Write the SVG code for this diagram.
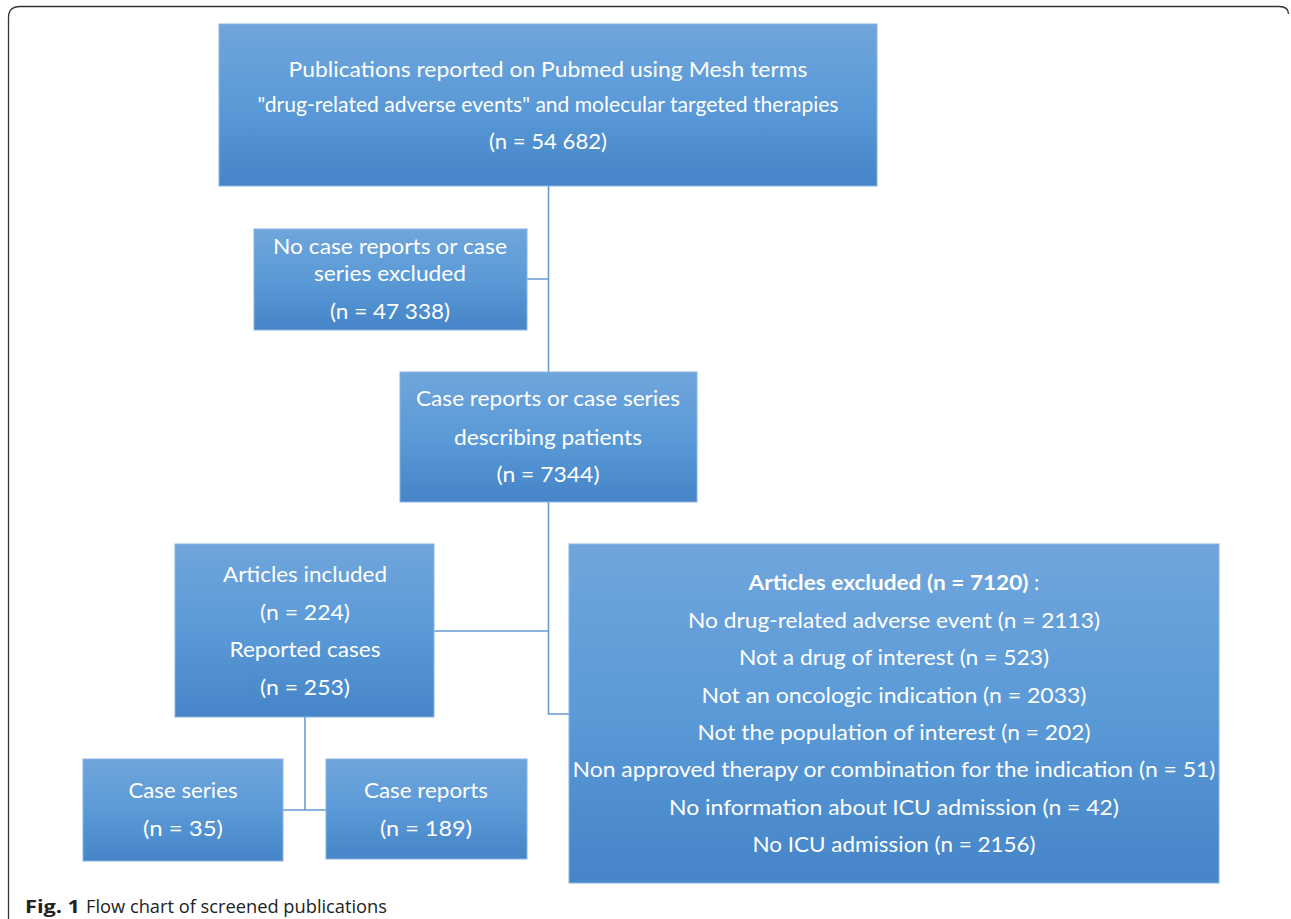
<svg xmlns="http://www.w3.org/2000/svg" width="1291" height="919" viewBox="0 0 1291 919">
<defs>
<linearGradient id="g" x1="0" y1="0" x2="0" y2="1">
<stop offset="0" stop-color="#70a5dc"/>
<stop offset="0.5" stop-color="#5a9ad7"/>
<stop offset="1" stop-color="#4585c8"/>
</linearGradient>
<style>
.box{fill:url(#g);stroke:#8ab4e0;stroke-width:1}
.t{font-family:Lato,"Open Sans","Liberation Sans",sans-serif;font-size:21.5px;fill:#ffffff;text-anchor:middle}
.c{fill:none;stroke:#6a9ad0;stroke-width:1.6}
.cap{font-family:"Open Sans","Liberation Sans",sans-serif;font-size:18px;fill:#222}
</style>
</defs>
<rect width="1291" height="919" fill="#ffffff"/>
<path d="M8.5,919 V18 Q8.5,6.5 20,6.5 H1279 Q1288.5,6.5 1288.5,14" fill="none" stroke="#333" stroke-width="1.3"/>
<g id="connectors">
<path class="c" d="M548.5,186 V372 M527,279 H548.5"/>
<path class="c" d="M548.5,502 V714 H569 M434,631 H548.5"/>
<path class="c" d="M305,717 V810 M283,810 H326"/>
</g>
<g id="n1">
<rect class="box" x="219" y="24" width="658" height="162"/>
<text class="t" x="548" y="77" textLength="519" lengthAdjust="spacingAndGlyphs">Publications reported on Pubmed using Mesh terms</text>
<text class="t" x="548" y="112" textLength="581" lengthAdjust="spacingAndGlyphs">"drug-related adverse events" and molecular targeted therapies</text>
<text class="t" x="548" y="149" textLength="118" lengthAdjust="spacingAndGlyphs">(n = 54 682)</text>
</g>
<g id="n2">
<rect class="box" x="254" y="229" width="273" height="101"/>
<text class="t" x="390" y="254" textLength="234" lengthAdjust="spacingAndGlyphs">No case reports or case</text>
<text class="t" x="390" y="281" textLength="152" lengthAdjust="spacingAndGlyphs">series excluded</text>
<text class="t" x="390" y="319" textLength="120" lengthAdjust="spacingAndGlyphs">(n = 47 338)</text>
</g>
<g id="n3">
<rect class="box" x="400" y="372" width="297" height="130"/>
<text class="t" x="548" y="406" textLength="264" lengthAdjust="spacingAndGlyphs">Case reports or case series</text>
<text class="t" x="548" y="445" textLength="188" lengthAdjust="spacingAndGlyphs">describing patients</text>
<text class="t" x="548" y="482" textLength="103" lengthAdjust="spacingAndGlyphs">(n = 7344)</text>
</g>
<g id="n4">
<rect class="box" x="175" y="544" width="259" height="173"/>
<text class="t" x="305" y="582" textLength="164" lengthAdjust="spacingAndGlyphs">Articles included</text>
<text class="t" x="305" y="620" textLength="90" lengthAdjust="spacingAndGlyphs">(n = 224)</text>
<text class="t" x="305" y="657" textLength="151" lengthAdjust="spacingAndGlyphs">Reported cases</text>
<text class="t" x="305" y="695" textLength="90" lengthAdjust="spacingAndGlyphs">(n = 253)</text>
</g>
<g id="n5">
<rect class="box" x="569" y="544" width="650" height="339"/>
<text class="t" x="894" y="590"><tspan font-weight="bold" textLength="280" lengthAdjust="spacingAndGlyphs">Articles excluded (n = 7120)</tspan> :</text>
<text class="t" x="894" y="628" textLength="412" lengthAdjust="spacingAndGlyphs">No drug-related adverse event (n = 2113)</text>
<text class="t" x="894" y="665" textLength="310" lengthAdjust="spacingAndGlyphs">Not a drug of interest (n = 523)</text>
<text class="t" x="894" y="703" textLength="385" lengthAdjust="spacingAndGlyphs">Not an oncologic indication (n = 2033)</text>
<text class="t" x="894" y="740" textLength="393" lengthAdjust="spacingAndGlyphs">Not the population of interest (n = 202)</text>
<text class="t" x="894" y="777" textLength="643" lengthAdjust="spacingAndGlyphs">Non approved therapy or combination for the indication (n = 51)</text>
<text class="t" x="894" y="815" textLength="450" lengthAdjust="spacingAndGlyphs">No information about ICU admission (n = 42)</text>
<text class="t" x="894" y="852" textLength="283" lengthAdjust="spacingAndGlyphs">No ICU admission (n = 2156)</text>
</g>
<g id="n6">
<rect class="box" x="83" y="759" width="200" height="102"/>
<text class="t" x="183" y="798" textLength="109" lengthAdjust="spacingAndGlyphs">Case series</text>
<text class="t" x="183" y="836" textLength="80" lengthAdjust="spacingAndGlyphs">(n = 35)</text>
</g>
<g id="n7">
<rect class="box" x="326" y="759" width="201" height="100"/>
<text class="t" x="426" y="798" textLength="124" lengthAdjust="spacingAndGlyphs">Case reports</text>
<text class="t" x="426" y="836" textLength="92" lengthAdjust="spacingAndGlyphs">(n = 189)</text>
</g>
<g id="caption">
<text class="cap" x="25" y="913"><tspan font-weight="bold" textLength="55" lengthAdjust="spacingAndGlyphs">Fig. 1</tspan><tspan x="86" textLength="301" lengthAdjust="spacingAndGlyphs">Flow chart of screened publications</tspan></text>
</g>
</svg>
